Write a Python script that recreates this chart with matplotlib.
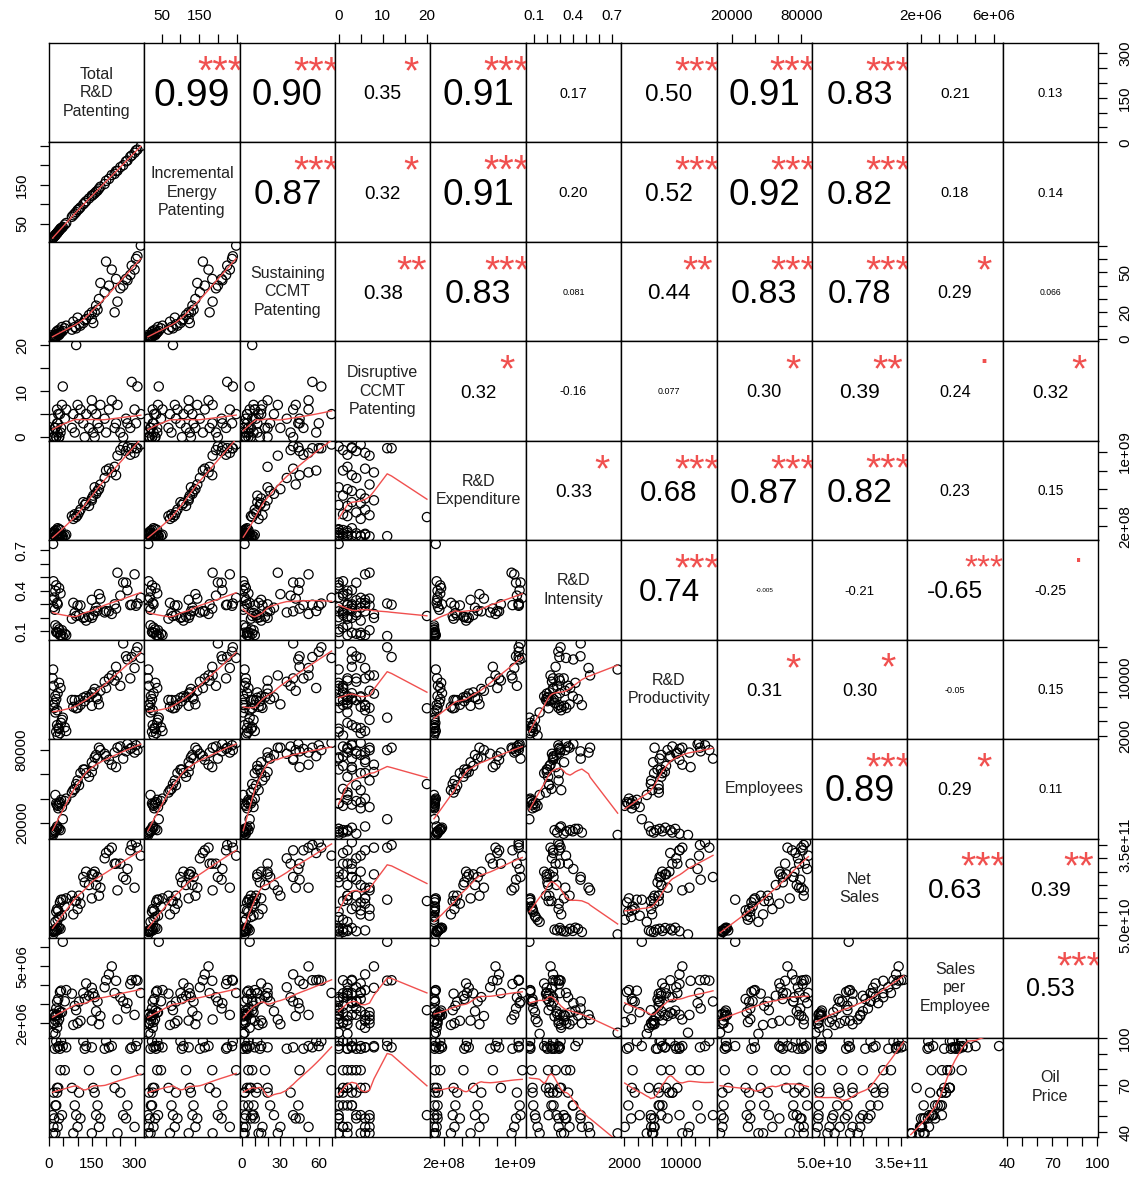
import numpy as np
import matplotlib
matplotlib.use("Agg")
import matplotlib.pyplot as plt
from matplotlib.textpath import TextPath
from matplotlib.font_manager import FontProperties
from matplotlib.transforms import offset_copy

plt.rcParams['font.family'] = ['Liberation Sans', 'DejaVu Sans']

# ---------------- data ----------------
var_names = ["Total\nR&D\nPatenting", "Incremental\nEnergy\nPatenting",
             "Sustaining\nCCMT\nPatenting", "Disruptive\nCCMT\nPatenting",
             "R&D\nExpenditure", "R&D\nIntensity", "R&D\nProductivity",
             "Employees", "Net\nSales", "Sales\nper\nEmployee", "Oil\nPrice"]

total_rd_patenting = [322, 305, 290, 310, 285, 270, 300, 260, 250, 275, 240, 230,
                      235, 220, 210, 200, 195, 180, 175, 165, 160, 170, 150, 155,
                      140, 130, 150, 120, 125, 110, 100, 95, 105, 90, 85, 80,
                      55, 48, 60, 42, 38, 35, 30, 45, 28, 25, 22, 32,
                      40, 35, 30, 25, 20, 18, 15, 12, 16, 22, 14, 28]
incremental_energy = [249, 238, 225, 240, 222, 210, 232, 200, 195, 212, 186, 178,
                      185, 175, 165, 160, 152, 145, 140, 132, 128, 135, 122, 125,
                      115, 108, 122, 100, 104, 92, 85, 80, 88, 76, 72, 68,
                      48, 42, 52, 38, 35, 32, 28, 40, 26, 24, 20, 30,
                      38, 33, 28, 24, 20, 18, 15, 13, 16, 21, 14, 26]
sustaining_ccmt = [70, 60, 55, 62, 48, 45, 52, 40, 38, 44, 28, 20,
                   45, 52, 40, 58, 35, 42, 30, 25, 20, 22, 15, 12,
                   18, 15, 20, 12, 14, 10, 16, 8, 11, 9, 13, 7,
                   8, 6, 10, 5, 4, 7, 3, 9, 2, 5, 1, 4,
                   5, 3, 4, 2, 1, 2, 1, 3, 2, 1, 2, 6]
disruptive_ccmt = [5, 3, 12, 11, 2, 4, 6, 0, 1, 3, 7, 2,
                   3, 8, 6, 1, 4, 7, 2, 5, 0, 3, 6, 1,
                   2, 5, 8, 3, 0, 6, 7, 20, 4, 1, 5, 2,
                   4, 11, 6, 2, 5, 0, 1, 7, 3, 0, 2, 5,
                   1, 0, 3, 0, 2, 0, 1, 4, 0, 2, 0, 6]
rd_expenditure = [1.08e9, 1.04e9, 1.04e9, 1.04e9, 0.97e9, 1.01e9, 0.99e9, 1.06e9, 1.02e9, 1.05e9, 0.96e9, 0.84e9,
                  7.5e8, 7.8e8, 8.2e8, 8.0e8, 7.2e8, 6.5e8, 6.0e8, 5.5e8, 6.2e8, 5.8e8, 5.0e8, 5.3e8,
                  4.2e8, 4.5e8, 4.8e8, 4.6e8, 4.3e8, 3.8e8, 3.2e8, 3.0e8, 3.5e8, 3.3e8, 2.8e8, 3.1e8,
                  1.0e8, 0.95e8, 1.1e8, 1.05e8, 0.98e8, 0.92e8, 0.9e8, 0.93e8, 1.0e8, 0.96e8, 0.9e8, 0.94e8,
                  1.6e8, 1.7e8, 1.8e8, 1.6e8, 1.5e8, 1.3e8, 1.2e8, 1.25e8, 1.35e8, 1.3e8, 1.1e8, 1.2e8]
rd_intensity = [0.348, 0.289, 0.297, 0.306, 0.294, 0.459, 0.521, 0.461, 0.364, 0.404, 0.533, 0.300,
                0.268, 0.229, 0.248, 0.250, 0.240, 0.342, 0.375, 0.275, 0.248, 0.252, 0.333, 0.221,
                0.210, 0.180, 0.200, 0.200, 0.205, 0.292, 0.291, 0.214, 0.219, 0.236, 0.311, 0.194,
                0.083, 0.066, 0.073, 0.072, 0.073, 0.115, 0.129, 0.109, 0.091, 0.096, 0.145, 0.090,
                0.380, 0.420, 0.300, 0.440, 0.260, 0.350, 0.470, 0.330, 0.280, 0.400, 0.745, 0.310]
rd_productivity = [12558, 13400, 12683, 14000, 9800, 12785, 11200, 14521, 8800, 12353, 10200, 9500,
                   11364, 10200, 9800, 8500, 9351, 8125, 6300, 7237, 8378, 7000, 6100, 7910,
                   7241, 7377, 7742, 7188, 6719, 6230, 5818, 5769, 6863, 6875, 5957, 6889,
                   3200, 4500, 2700, 3800, 2400, 3000, 2093, 4200, 3500, 2600, 5200, 3100,
                   8500, 9200, 7800, 7000, 6500, 5800, 6200, 9800, 8800, 7400, 11000, 5500]
employees = [86000, 84000, 82000, 80000, 81000, 79000, 78000, 73000, 83000, 85000, 82000, 78000,
             66000, 68000, 72000, 75000, 77000, 80000, 82000, 76000, 74000, 73000, 70000, 67000,
             58000, 61000, 62000, 64000, 64000, 61000, 55000, 52000, 51000, 48000, 47000, 45000,
             38000, 23000, 40000, 39000, 37000, 36000, 34000, 33000, 35000, 36000, 43000, 32000,
             14000, 15000, 16000, 15000, 14000, 13000, 12000, 11000, 12000, 13000, 10000, 17000]
net_sales = [3.1e11, 3.6e11, 3.5e11, 3.4e11, 3.3e11, 2.2e11, 1.9e11, 2.3e11, 2.8e11, 2.6e11, 1.8e11, 2.8e11,
             2.8e11, 3.4e11, 3.3e11, 3.2e11, 3.0e11, 1.9e11, 1.6e11, 2.0e11, 2.5e11, 2.3e11, 1.5e11, 2.4e11,
             2.0e11, 2.5e11, 2.4e11, 2.3e11, 2.1e11, 1.3e11, 1.1e11, 1.4e11, 1.6e11, 1.4e11, 0.9e11, 1.6e11,
             1.2e11, 1.45e11, 1.5e11, 1.45e11, 1.35e11, 0.8e11, 0.7e11, 0.85e11, 1.1e11, 1.0e11, 0.62e11, 1.05e11,
             3.6e10, 4.0e10, 3.9e10, 3.6e10, 3.3e10, 2.6e10, 2.4e10, 2.7e10, 3.0e10, 2.8e10, 1.5e10, 3.0e10]
sales_per_employee = [3.60e6, 4.29e6, 4.27e6, 4.25e6, 4.07e6, 2.78e6, 2.44e6, 3.15e6, 3.37e6, 3.06e6, 2.20e6, 3.59e6,
                      4.24e6, 5.00e6, 4.58e6, 4.27e6, 3.90e6, 2.38e6, 1.95e6, 2.63e6, 3.38e6, 3.15e6, 2.14e6, 3.58e6,
                      3.45e6, 4.10e6, 3.87e6, 3.59e6, 3.28e6, 2.13e6, 2.00e6, 2.69e6, 3.14e6, 2.92e6, 1.91e6, 3.56e6,
                      3.16e6, 6.30e6, 3.75e6, 3.72e6, 3.65e6, 2.22e6, 2.06e6, 2.58e6, 3.14e6, 2.78e6, 1.44e6, 3.28e6,
                      2.57e6, 2.67e6, 2.44e6, 2.40e6, 2.36e6, 2.00e6, 2.00e6, 2.45e6, 2.50e6, 2.15e6, 1.50e6, 1.76e6]
oil_price = [79.5, 94.9, 94.1, 98.0, 93.2, 48.7, 43.3, 50.8, 65.2, 57.0, 39.2, 68.2,
             79.5, 94.9, 94.1, 98.0, 93.2, 48.7, 43.3, 50.8, 65.2, 57.0, 39.2, 68.2,
             79.5, 94.9, 94.1, 98.0, 93.2, 48.7, 43.3, 50.8, 65.2, 57.0, 39.2, 68.2,
             79.5, 94.9, 94.1, 98.0, 93.2, 48.7, 43.3, 50.8, 65.2, 57.0, 39.2, 68.2,
             79.5, 94.9, 94.1, 98.0, 93.2, 48.7, 43.3, 50.8, 65.2, 57.0, 39.2, 68.2]

variables = [total_rd_patenting, incremental_energy, sustaining_ccmt, disruptive_ccmt,
             rd_expenditure, rd_intensity, rd_productivity, employees, net_sales,
             sales_per_employee, oil_price]

# correlation labels as printed in the upper panels (row by row, right of diagonal)
corr_labels = [
    ["0.99", "0.90", "0.35", "0.91", "0.17", "0.50", "0.91", "0.83", "0.21", "0.13"],
    ["0.87", "0.32", "0.91", "0.20", "0.52", "0.92", "0.82", "0.18", "0.14"],
    ["0.38", "0.83", "0.081", "0.44", "0.83", "0.78", "0.29", "0.066"],
    ["0.32", "-0.16", "0.077", "0.30", "0.39", "0.24", "0.32"],
    ["0.33", "0.68", "0.87", "0.82", "0.23", "0.15"],
    ["0.74", "-0.005", "-0.21", "-0.65", "-0.25"],
    ["0.31", "0.30", "-0.05", "0.15"],
    ["0.89", "0.29", "0.11"],
    ["0.63", "0.39"],
    ["0.53"],
]
signif_labels = [
    ["***", "***", "*", "***", "", "***", "***", "***", "", ""],
    ["***", "*", "***", "", "***", "***", "***", "", ""],
    ["**", "***", "", "**", "***", "***", "*", ""],
    ["*", "", "", "*", "**", ".", "*"],
    ["*", "***", "***", "***", "", ""],
    ["***", "", "", "***", "."],
    ["*", "*", "", ""],
    ["***", "*", ""],
    ["***", "**"],
    ["***"],
]

tick_values = [
    [0, 50, 100, 150, 200, 250, 300],
    [50, 100, 150, 200, 250],
    [0, 10, 20, 30, 40, 50, 60, 70],
    [0, 5, 10, 15, 20],
    [2e8, 4e8, 6e8, 8e8, 1e9],
    [0.1, 0.2, 0.3, 0.4, 0.5, 0.6, 0.7],
    [2000, 4000, 6000, 8000, 10000, 12000, 14000],
    [20000, 40000, 60000, 80000],
    [5e10, 1e11, 1.5e11, 2e11, 2.5e11, 3e11, 3.5e11],
    [2e6, 3e6, 4e6, 5e6, 6e6],
    [40, 50, 60, 70, 80, 90, 100],
]
x_tick_labels = [
    ["0", "", "", "150", "", "", "300"],
    ["50", "", "150", "", ""],
    ["0", "", "", "30", "", "", "60", ""],
    ["0", "", "10", "", "20"],
    ["2e+08", "", "", "", "1e+09"],
    ["0.1", "", "", "0.4", "", "", "0.7"],
    ["2000", "", "", "", "10000", "", ""],
    ["20000", "", "", "80000"],
    ["5.0e+10", "", "", "", "", "", "3.5e+11"],
    ["2e+06", "", "", "", "6e+06"],
    ["40", "", "", "70", "", "", "100"],
]
y_tick_labels = [
    ["0", "", "", "150", "", "", "300"],
    ["50", "", "150", "", ""],
    ["0", "", "20", "", "", "50", "", ""],
    ["0", "", "10", "", "20"],
    ["2e+08", "", "", "", "1e+09"],
    ["0.1", "", "", "0.4", "", "", "0.7"],
    ["2000", "", "", "", "10000", "", ""],
    ["20000", "", "", "80000"],
    ["5.0e+10", "", "", "", "", "", "3.5e+11"],
    ["2e+06", "", "", "5e+06", ""],
    ["40", "", "", "70", "", "", "100"],
]

RED = "#F0504F"


def lowess(x, y, f=2 / 3, iters=3):
    x = np.asarray(x, float)
    y = np.asarray(y, float)
    o = np.argsort(x, kind="mergesort")
    x, y = x[o], y[o]
    n = len(x)
    ns = max(min(int(f * n + 1e-7), n), 2)
    rw = np.ones(n)
    ys = np.zeros(n)
    rng = x[-1] - x[0]
    for it in range(iters + 1):
        for i in range(n):
            d = np.abs(x - x[i])
            h = np.sort(d)[ns - 1]
            w = np.zeros(n)
            m = d <= 0.999 * h if h > 0 else d <= 0
            if h > 0:
                ww = np.where(d[m] <= 0.001 * h, 1.0, (1 - (d[m] / h) ** 3) ** 3)
            else:
                ww = np.ones(m.sum())
            w[m] = ww * rw[m]
            s = w.sum()
            if s <= 0:
                ys[i] = y[i]
                continue
            w = w / s
            if h > 0:
                a = np.sum(w * x)
                b = x[i] - a
                c = np.sum(w * (x - a) ** 2)
                if np.sqrt(c) > 0.001 * rng:
                    b = b / c
                    w = w * (b * (x - a) + 1)
            ys[i] = np.sum(w * y)
        if it == iters:
            break
        res = np.abs(y - ys)
        cmad = 6 * np.median(res)
        if cmad < 1e-7 * np.mean(np.abs(y)):
            break
        rw = np.where(res <= 0.001 * cmad, 1.0,
                      np.where(res <= 0.999 * cmad, (1 - (res / cmad) ** 2) ** 2, 0.0))
    return x, ys


n = len(variables)
fig = plt.figure(figsize=(11.38, 11.92), dpi=100)
axes = fig.subplots(n, n, gridspec_kw=dict(left=49 / 1138, right=1098 / 1138,
                                            top=1 - 43 / 1192, bottom=1 - 1137 / 1192,
                                            wspace=0, hspace=0))
limits = []
for v in variables:
    a = np.asarray(v, float)
    lo, hi = a.min(), a.max()
    r = hi - lo
    limits.append((lo - 0.04 * r, hi + 0.04 * r))

renderer = fig.canvas.get_renderer()
panel_w = axes[0, 0].get_window_extent(renderer).width
fprop = FontProperties(family="Liberation Sans")


def text_w(s, size):
    t = fig.text(0, 0, s, fontsize=size)
    w = t.get_window_extent(renderer).width
    t.remove()
    return w


def ink_center(s, size):
    ext = TextPath((0, 0), s, size=size, prop=fprop).get_extents()
    return (ext.y0 + ext.y1) / 2


# diagonal label size: widest line = 0.9 panel width
max_line_w = max(text_w(line, 10) for nm in var_names for line in nm.split("\n"))
label_size = 10 * 0.9 * panel_w / max_line_w

for i in range(n):
    for j in range(n):
        ax = axes[i, j]
        ax.set_xlim(limits[j])
        ax.set_ylim(limits[i])
        ax.tick_params(which="both", bottom=False, top=False, left=False, right=False,
                       labelbottom=False, labeltop=False, labelleft=False, labelright=False)
        for sp in ax.spines.values():
            sp.set_linewidth(1.0)
            sp.set_color("black")
        if i == j:
            ax.text(0.5, 0.5, var_names[i], transform=ax.transAxes, ha="center", va="center",
                    fontsize=label_size, color="#222222", linespacing=1.3)
        elif i > j:
            x = variables[j]
            y = variables[i]
            ax.scatter(x, y, s=44, facecolors="none", edgecolors="black", linewidths=0.9, zorder=2)
            sx, sy = lowess(x, y)
            ax.plot(sx, sy, color=RED, lw=1.0, zorder=3)
        else:
            txt = corr_labels[i][j - i - 1]
            sig = signif_labels[i][j - i - 1]
            r = abs(float(txt))
            base = 10 * 0.8 * panel_w / text_w(txt, 10)
            size = base * (r + 0.3) / 1.3
            tr = offset_copy(ax.transAxes, fig=fig, x=0, y=-ink_center(txt, size), units="points")
            ax.text(0.5, 0.5, txt, transform=tr, ha="center", va="baseline",
                    fontsize=size, color="black")
            if sig:
                tr2 = offset_copy(ax.transAxes, fig=fig, x=0, y=-ink_center(sig, base), units="points")
                ax.text(0.8, 0.8, sig, transform=tr2, ha="center", va="baseline",
                        fontsize=base, color=RED, clip_on=True)

tick_kw = dict(length=6.5, width=0.9, labelsize=11, pad=8, colors="black")
for j in range(n):
    if j % 2 == 1:
        ax = axes[0, j]
        ax.set_xticks(tick_values[j], labels=x_tick_labels[j])
        ax.tick_params(axis="x", top=True, labeltop=True, **tick_kw)
    else:
        ax = axes[n - 1, j]
        ax.set_xticks(tick_values[j], labels=x_tick_labels[j])
        ax.tick_params(axis="x", bottom=True, labelbottom=True, **tick_kw)
for i in range(n):
    if i % 2 == 1:
        ax = axes[i, 0]
        ax.set_yticks(tick_values[i], labels=y_tick_labels[i])
        ax.tick_params(axis="y", left=True, labelleft=True, labelrotation=90, **tick_kw)
        for lab in ax.get_yticklabels():
            lab.set_va("center")
    else:
        ax = axes[i, n - 1]
        ax.set_yticks(tick_values[i], labels=y_tick_labels[i])
        ax.tick_params(axis="y", right=True, labelright=True, labelrotation=90, **tick_kw)
        for lab in ax.get_yticklabels():
            lab.set_va("center")

fig.savefig("out.png", dpi=100)
